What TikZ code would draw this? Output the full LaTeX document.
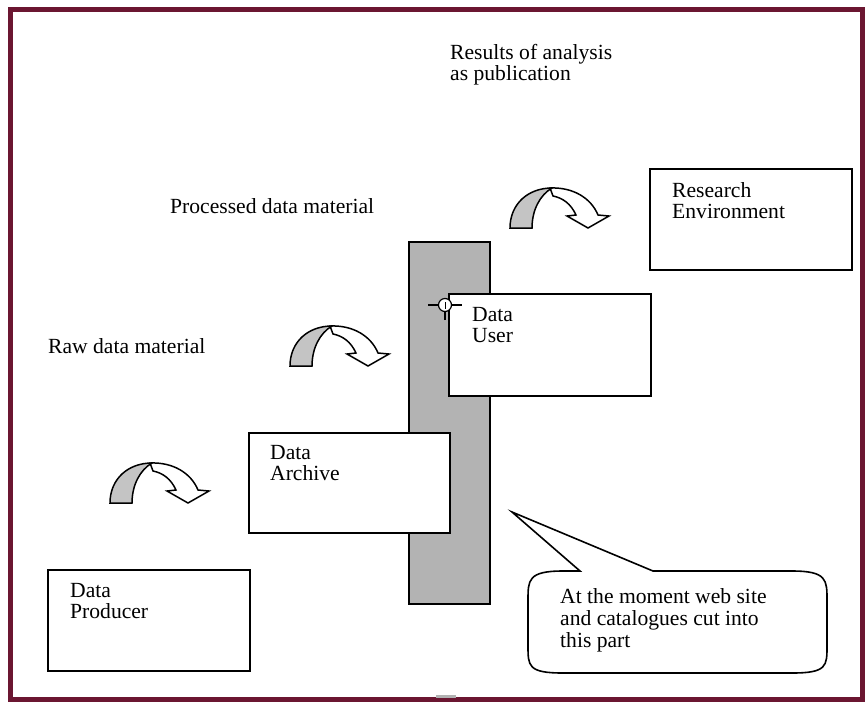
\documentclass[tikz,border=0pt]{standalone}
\usepackage{fontspec}
\setmainfont{Liberation Serif}
\begin{document}
\begin{tikzpicture}[x=1pt,y=-1pt,
  box/.style={draw=black,line width=1.6pt,fill=white,anchor=north west,inner sep=0pt},
  txt/.style={inner sep=0pt,align=left,font={\fontsize{21.6}{20.5}\selectfont}},
  curvarrow/.pic={
    \path[draw=black,line width=1.5pt,fill=white,line join=miter]
      (40,-40) .. controls (63,-41) and (81,-30) .. (88,-13) -- (99,-12) -- (78,0)
      -- (57,-12) -- (66,-13) .. controls (61,-24) and (53,-30) .. (43,-32) -- cycle;
    \path[draw=black,line width=1.5pt,fill=arrowgray]
      (0,0) .. controls (0,-24) and (18,-40) .. (42,-40)
      .. controls (30,-33) and (22,-18) .. (22,0) -- cycle;
  }]
\definecolor{framered}{HTML}{6B1631}
\definecolor{bargray}{HTML}{B3B3B3}
\definecolor{arrowgray}{HTML}{C4C4C4}
\useasboundingbox (0,0) rectangle (866,702);
\fill[white] (0,0) rectangle (866,702);
% frame
\draw[framered,line width=5pt] (10,9.5) rectangle (862.5,699.5);
\fill[gray!60] (436,695) rectangle (456,698);
% vertical bar
\node[box,fill=bargray,minimum width=81pt,minimum height=362pt] (bar) at (408,241) {};
% boxes
\node[box,minimum width=202pt,minimum height=101pt] (env) at (649,168) {};
\node[box,minimum width=202pt,minimum height=102pt] (user) at (448,293) {};
\node[box,minimum width=201pt,minimum height=100pt] (archive) at (248,432) {};
\node[box,minimum width=202pt,minimum height=101pt] (producer) at (47,569) {};
% box texts
\node[txt,anchor=north west] (envtxt) at (672,182.5) {Research\\Environment};
\node[txt,anchor=north west] (usertxt) at (472,307.5) {Data\\User};
\node[txt,anchor=north west] (archivetxt) at (270,445.5) {Data\\Archive};
\node[txt,anchor=north west] (producertxt) at (70,583.5) {Data\\Producer};
% free texts
\node[txt,anchor=north west,font={\fontsize{21.6}{19}\selectfont}] (results) at (450,44.5) {Results of analysis\\as publication};
\node[txt,anchor=base west] (processed) at (170,213) {Processed data material};
\node[txt,anchor=base west] (raw) at (48,353) {Raw data material};
% curved arrows
\pic at (110,503) {curvarrow};
\pic at (290,366) {curvarrow};
\pic at (510,228) {curvarrow};
% crosshair
\coordinate (cross) at (445,305);
\draw[black,line width=1.2pt,fill=white] (cross) circle (6.5pt);
\draw[black,line width=1.2pt] ([xshift=-17pt]cross) -- ([xshift=-6.5pt]cross)
  ([xshift=6.5pt]cross) -- ([xshift=17pt]cross)
  ([yshift=-15pt]cross) -- ([yshift=-6.5pt]cross);
\draw[black,line width=1pt] ([yshift=-3.5pt]cross) -- ([yshift=3.5pt]cross);
% callout
\coordinate (tip) at (512,512);
\draw[black,line width=1.6pt,fill=white,line join=miter]
  (580,571) -- (tip) -- (653,571) -- (792,571) .. controls (827,571) and (827,580) .. (827,600)
  -- (827,646) .. controls (827,666) and (827,673) .. (792,673)
  -- (563,673) .. controls (528,673) and (528,666) .. (528,646)
  -- (528,600) .. controls (528,580) and (528,571) .. (563,571) -- cycle;
\node[txt,anchor=north west,font={\fontsize{21.6}{22}\selectfont}] (callout) at (560,588.5)
  {At the moment web site\\and catalogues cut into\\this part};
\end{tikzpicture}
\end{document}
